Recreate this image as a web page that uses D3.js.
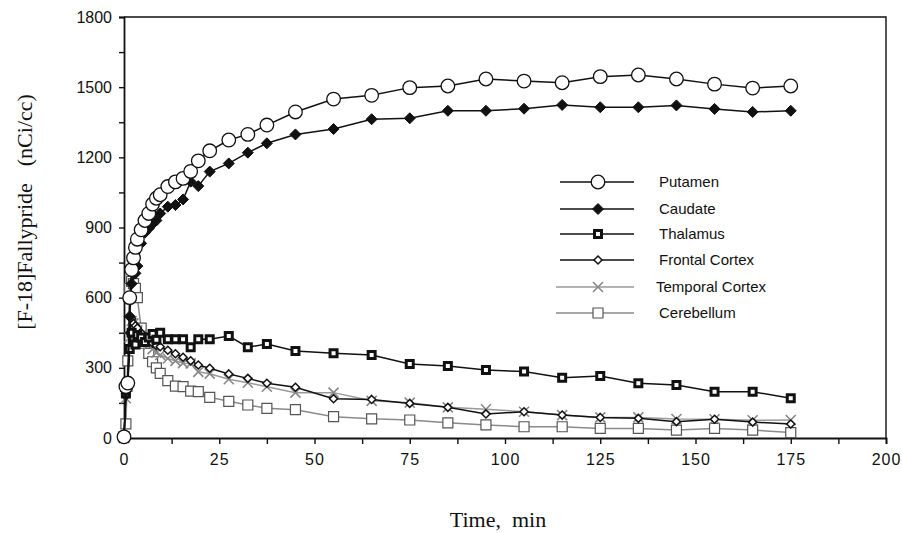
<!DOCTYPE html>
<html>
<head>
<meta charset="utf-8">
<script src="https://cdn.jsdelivr.net/npm/d3@7"></script>
<style>
  body { margin: 0; background: #fff; }
  svg text { fill: #111; }
</style>
</head>
<body>
<div id="chart"></div>
<script>
// Temps (min) communs a toutes les courbes
const times = [0, 0.5, 1, 1.5, 2, 2.5, 3, 3.5, 4.5, 5.5, 6.5, 7.5, 8.5, 9.5, 11.5, 13.5, 15.5, 17.5, 19.5,
    22.5, 27.5, 32.5, 37.5, 45, 55, 65, 75, 85, 95, 105, 115, 125, 135, 145, 155, 165, 175];

const putamen = [5, 220, 235, 600, 720, 770, 815, 850, 890, 930, 960, 1000, 1025, 1040, 1075, 1095, 1110, 1140, 1185,
    1228, 1274, 1298, 1338, 1394, 1449, 1465, 1498, 1505, 1535, 1526, 1519, 1545, 1552, 1535, 1513, 1496, 1505];
const caudate = [0, 200, 225, 520, 660, 700, 704, 735, 832, 878, 896, 915, 930, 960, 989, 996, 1020, 1096, 1077,
    1139, 1174, 1220, 1260, 1298, 1321, 1363, 1367, 1399, 1399, 1408, 1424, 1414, 1414, 1422, 1407, 1394, 1399];
const thalamus = [0, 190, 230, 380, 450, 420, 400, 440, 430, 410, 430, 445, 420, 450, 422, 422, 422, 388, 422,
    422, 436, 388, 402, 372, 362, 355, 316, 308, 291, 284, 258, 265, 234, 227, 198, 198, 170];
const frontal = [0, 180, 240, 450, 510, 490, 480, 470, 450, 430, 420, 405, 395, 390, 375, 360, 345, 330, 312,
    298, 274, 255, 234, 217, 168, 165, 148, 131, 103, 112, 98, 88, 84, 70, 80, 68, 60];
const temporal = [0, 170, 220, 430, 500, 490, 470, 460, 440, 420, 400, 380, 365, 355, 340, 330, 320, 319, 283,
    275, 251, 236, 219, 194, 194, 159, 151, 131, 123, 112, 98, 88, 88, 81, 80, 76, 77];
const cerebellum = [5, 60, 330, 640, 670, 660, 640, 600, 470, 405, 362, 326, 300, 276, 245, 222, 220, 200, 198,
    174, 157, 141, 127, 121, 91, 82, 77, 65, 56, 48, 48, 41, 41, 34, 41, 34, 23];

const labels = ["Putamen", "Caudate", "Thalamus", "Frontal Cortex", "Temporal Cortex", "Cerebellum"];
const xTicks = [0, 25, 50, 75, 100, 125, 150, 175, 200];
const yTicks = [0, 300, 600, 900, 1200, 1500, 1800];

// Styles des series
const series = [
    {name: labels[5], values: cerebellum, line: "#8a8a8a", sym: "square", size: 10, fill: "#fff", stroke: "#555", sw: 1.2},
    {name: labels[4], values: temporal, line: "#9a9a9a", sym: "x", size: 5, fill: "none", stroke: "#888", sw: 1.6},
    {name: labels[3], values: frontal, line: "#111", sym: "diamond", size: 4, fill: "#fff", stroke: "#111", sw: 1.5},
    {name: labels[2], values: thalamus, line: "#111", sym: "square", size: 7, fill: "#fff", stroke: "#111", sw: 3},
    {name: labels[1], values: caudate, line: "#111", sym: "diamond", size: 5.5, fill: "#111", stroke: "#111", sw: 1},
    {name: labels[0], values: putamen, line: "#111", sym: "circle", size: 6.8, fill: "#fff", stroke: "#111", sw: 1.3}
];

const margin = {top: 17, right: 16, bottom: 95, left: 124},
    width = 902 - margin.left - margin.right,
    height = 533 - margin.top - margin.bottom;

const svg = d3.select("#chart")
    .append("svg")
    .attr("width", 902)
    .attr("height", 533);

const g = svg.append("g")
    .attr("transform", `translate(${margin.left},${margin.top})`);

const x = d3.scaleLinear().domain([0, 200]).range([0, width]);
const y = d3.scaleLinear().domain([0, 1800]).range([height, 0]);

// Cadre
g.append("path")
    .attr("d", `M0,0H${width}V${height}`)
    .attr("fill", "none")
    .attr("stroke", "#111")
    .attr("stroke-width", 1.4);

// Axe X
const xAxis = g.append("g")
    .attr("transform", `translate(0,${height})`)
    .call(d3.axisBottom(x).tickValues(d3.range(0, 201, 12.5)).tickSize(6)
        .tickFormat(d => xTicks.includes(d) ? d : ""));
xAxis.selectAll("text")
    .attr("dy", "1.1em")
    .style("font-family", "'Liberation Sans', Arial, sans-serif")
    .style("font-size", "16px")
    .style("letter-spacing", "1px");

// Axe Y
const yAxis = g.append("g")
    .call(d3.axisLeft(y).tickValues(d3.range(0, 1801, 150)).tickSize(5)
        .tickFormat(d => yTicks.includes(d) ? d : ""));
yAxis.selectAll("text")
    .attr("dx", "-4")
    .style("font-family", "'Liberation Sans', Arial, sans-serif")
    .style("font-size", "16px");

[xAxis, yAxis].forEach(a => {
    a.select(".domain").attr("stroke", "#111").attr("stroke-width", 1.8);
    a.selectAll(".tick line").attr("stroke", "#111").attr("stroke-width", 1.4);
});

// Titres des axes
svg.append("text")
    .attr("x", 498)
    .attr("y", 527)
    .attr("text-anchor", "middle")
    .style("font-family", "'Liberation Serif', 'Times New Roman', serif")
    .style("font-size", "22px")
    .attr("xml:space", "preserve")
    .text("Time,  min");

svg.append("text")
    .attr("transform", "translate(32,212) rotate(-90)")
    .attr("text-anchor", "middle")
    .style("font-family", "'Liberation Serif', 'Times New Roman', serif")
    .style("font-size", "22px")
    .style("word-spacing", "3px")
    .attr("xml:space", "preserve")
    .text("[F-18]Fallypride  (nCi/cc)");

function symbolPath(sym, s) {
    if (sym === "circle") return d3.symbol(d3.symbolCircle, Math.PI * s * s)();
    if (sym === "square") return `M${-s / 2},${-s / 2}h${s}v${s}h${-s}Z`;
    if (sym === "diamond") return `M0,${-s}L${s},0L0,${s}L${-s},0Z`;
    return `M${-s},${-s}L${s},${s}M${-s},${s}L${s},${-s}`;
}

const line = d3.line()
    .x((d, i) => x(times[i]))
    .y(d => y(d));

series.forEach(s => {
    g.append("path")
        .datum(s.values)
        .attr("fill", "none")
        .attr("stroke", s.line)
        .attr("stroke-width", 1.5)
        .attr("d", line);

    g.append("g")
        .selectAll("path")
        .data(s.values)
        .join("path")
        .attr("transform", (d, i) => `translate(${x(times[i])},${y(d)})`)
        .attr("d", symbolPath(s.sym, s.size))
        .attr("fill", s.fill)
        .attr("stroke", s.stroke)
        .attr("stroke-width", s.sw);
});

// Legende
const legend = svg.append("g").attr("transform", "translate(560,182)");
labels.forEach((lab, i) => {
    const s = series.find(d => d.name === lab);
    const row = legend.append("g").attr("transform", `translate(0,${[0, 27, 52, 78, 105, 131][i]})`);
    row.append("line")
        .attr("x1", i >= 4 ? -4 : 0).attr("x2", 74)
        .attr("stroke", s.line)
        .attr("stroke-width", 1.5);
    row.append("path")
        .attr("transform", "translate(38,0)")
        .attr("d", symbolPath(s.sym, s.size))
        .attr("fill", s.fill)
        .attr("stroke", s.stroke)
        .attr("stroke-width", s.sw);
    row.append("text")
        .attr("x", i === 4 ? 96 : 99)
        .attr("y", 5)
        .style("font-family", "'Liberation Sans', Arial, sans-serif")
        .style("font-size", "15px")
        .text(lab);
});
</script>
</body>
</html>
